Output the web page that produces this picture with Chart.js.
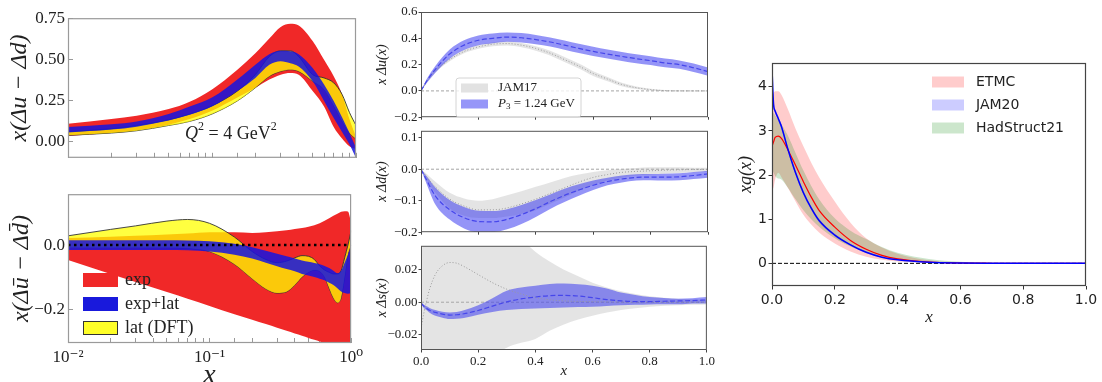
<!DOCTYPE html>
<html>
<head>
<meta charset="utf-8">
<script src="https://cdn.jsdelivr.net/npm/chart.js@4.4.1/dist/chart.umd.min.js"></script>
<style>
  html, body { margin: 0; padding: 0; background: #fff; }
  body { position: relative; width: 1102px; height: 382px; overflow: hidden; }
  canvas { position: absolute; }
</style>
</head>
<body>
<canvas id="pA"></canvas>
<canvas id="pB"></canvas>
<canvas id="pU"></canvas>
<canvas id="pD"></canvas>
<canvas id="pS"></canvas>
<canvas id="pG"></canvas>
<script>
// ---------- left column: x(Δu-Δd) and x(Δū-Δd̄), log x ----------
const xA = [0.01, 0.02, 0.03, 0.05, 0.07, 0.1, 0.15, 0.2, 0.25, 0.3, 0.35, 0.4, 0.5, 0.6, 0.7, 0.8, 0.9, 1.0];
const expHiA = [0.111, 0.14, 0.16, 0.20, 0.245, 0.32, 0.44, 0.54, 0.63, 0.70, 0.72, 0.71, 0.615, 0.50, 0.40, 0.29, 0.14, 0.03];
const expLoA = [0.036, 0.054, 0.07, 0.105, 0.14, 0.19, 0.27, 0.33, 0.38, 0.41, 0.42, 0.41, 0.31, 0.215, 0.09, 0.02, -0.027, -0.045];
const latHiA = [0.063, 0.08, 0.10, 0.135, 0.17, 0.22, 0.31, 0.41, 0.52, 0.555, 0.555, 0.52, 0.41, 0.39, 0.36, 0.29, 0.18, 0.10];
const latLoA = [0.04, 0.054, 0.068, 0.10, 0.125, 0.17, 0.25, 0.33, 0.40, 0.43, 0.44, 0.43, 0.37, 0.32, 0.22, 0.126, 0.054, 0.018];
const bothHiA = [0.09, 0.108, 0.125, 0.17, 0.215, 0.27, 0.38, 0.47, 0.535, 0.555, 0.552, 0.535, 0.45, 0.35, 0.25, 0.15, 0.055, -0.036];
const bothLoA = [0.057, 0.075, 0.093, 0.13, 0.165, 0.215, 0.31, 0.39, 0.47, 0.492, 0.48, 0.46, 0.37, 0.25, 0.145, 0.06, -0.015, -0.098];

const xB = [0.01, 0.02, 0.03, 0.05, 0.07, 0.1, 0.15, 0.2, 0.25, 0.3, 0.35, 0.4, 0.45, 0.5, 0.55, 0.6, 0.65, 0.7, 0.75, 0.8, 0.85, 0.9, 0.95, 1.0];
const expHiB = [0.022, 0.026, 0.029, 0.033, 0.036, 0.04, 0.04, 0.038, 0.04, 0.043, 0.046, 0.05, 0.053, 0.057, 0.062, 0.068, 0.076, 0.084, 0.092, 0.098, 0.104, 0.106, 0.105, 0.07];
const expLoB = [-0.047, -0.09, -0.115, -0.147, -0.168, -0.19, -0.216, -0.233, -0.247, -0.258, -0.268, -0.276, -0.283, -0.29, -0.296, -0.301, -0.306, -0.31, -0.32, -0.32, -0.32, -0.32, -0.32, -0.32];
const latHiB = [0.029, 0.049, 0.06, 0.075, 0.08, 0.068, 0.025, -0.02, -0.045, -0.055, -0.05, -0.04, -0.033, -0.035, -0.045, -0.065, -0.078, -0.085, -0.09, -0.09, -0.08, -0.04, 0.0, 0.045];
const latLoB = [-0.008, -0.008, -0.008, -0.008, -0.01, -0.02, -0.06, -0.105, -0.137, -0.15, -0.146, -0.125, -0.1, -0.085, -0.078, -0.082, -0.1, -0.135, -0.165, -0.18, -0.165, -0.1, -0.03, 0.0];
const bothHiB = [0.015, 0.015, 0.015, 0.015, 0.014, 0.012, 0.004, -0.007, -0.018, -0.027, -0.035, -0.042, -0.048, -0.052, -0.056, -0.06, -0.065, -0.072, -0.08, -0.088, -0.08, -0.055, -0.03, -0.005];
const bothLoB = [-0.015, -0.015, -0.015, -0.015, -0.016, -0.02, -0.03, -0.042, -0.055, -0.066, -0.075, -0.082, -0.09, -0.095, -0.1, -0.105, -0.11, -0.118, -0.125, -0.135, -0.145, -0.15, -0.152, -0.15];
const leftNames = ['exp', 'exp+lat', 'lat (DFT)'];

// ---------- middle column: JAM17 vs P3 = 1.24 GeV ----------
const xM = [0, 0.02, 0.05, 0.1, 0.15, 0.2, 0.25, 0.3, 0.35, 0.4, 0.45, 0.5, 0.55, 0.6, 0.65, 0.7, 0.75, 0.8, 0.85, 0.9, 0.95, 1.0];
const jamU = [0, 0.07, 0.152, 0.238, 0.30, 0.335, 0.355, 0.36, 0.348, 0.323, 0.287, 0.238, 0.189, 0.132, 0.09, 0.049, 0.024, 0.01, 0.002, 0, 0, 0];
const jamUHi = [0, 0.075, 0.162, 0.25, 0.313, 0.349, 0.37, 0.375, 0.364, 0.34, 0.305, 0.257, 0.208, 0.15, 0.106, 0.062, 0.034, 0.017, 0.007, 0.003, 0.002, 0.002];
const jamULo = [0, 0.065, 0.142, 0.226, 0.287, 0.321, 0.34, 0.345, 0.332, 0.306, 0.269, 0.219, 0.17, 0.114, 0.074, 0.036, 0.014, 0.003, -0.003, -0.003, -0.002, -0.002];
const latU = [0, 0.075, 0.164, 0.28, 0.348, 0.385, 0.40, 0.409, 0.404, 0.39, 0.372, 0.348, 0.323, 0.30, 0.28, 0.262, 0.245, 0.23, 0.213, 0.20, 0.176, 0.147];
const latUHi = [0, 0.09, 0.19, 0.315, 0.385, 0.422, 0.437, 0.445, 0.44, 0.426, 0.407, 0.383, 0.358, 0.335, 0.314, 0.296, 0.279, 0.263, 0.246, 0.232, 0.208, 0.178];
const latULo = [0, 0.06, 0.138, 0.245, 0.311, 0.348, 0.363, 0.373, 0.368, 0.354, 0.337, 0.313, 0.288, 0.265, 0.246, 0.228, 0.211, 0.197, 0.18, 0.168, 0.144, 0.116];

const jamD = [0, -0.025, -0.056, -0.095, -0.117, -0.129, -0.129, -0.123, -0.11, -0.095, -0.077, -0.059, -0.041, -0.026, -0.017, -0.01, -0.007, -0.005, -0.003, -0.002, -0.001, -0.001];
const jamDHi = [0, -0.015, -0.04, -0.075, -0.093, -0.1, -0.095, -0.083, -0.07, -0.056, -0.042, -0.028, -0.017, -0.009, -0.003, 0.001, 0.004, 0.006, 0.006, 0.006, 0.005, 0.005];
const jamDLo = [0, -0.035, -0.075, -0.125, -0.148, -0.155, -0.155, -0.15, -0.142, -0.13, -0.11, -0.09, -0.068, -0.05, -0.036, -0.027, -0.02, -0.017, -0.014, -0.012, -0.01, -0.008];
const latD = [0, -0.035, -0.085, -0.129, -0.154, -0.166, -0.167, -0.159, -0.144, -0.125, -0.103, -0.083, -0.066, -0.051, -0.039, -0.031, -0.026, -0.025, -0.025, -0.024, -0.02, -0.015];
const latDHi = [0, -0.022, -0.058, -0.098, -0.12, -0.132, -0.133, -0.127, -0.114, -0.098, -0.08, -0.062, -0.048, -0.036, -0.027, -0.02, -0.016, -0.015, -0.014, -0.013, -0.009, -0.005];
const latDLo = [0, -0.048, -0.112, -0.16, -0.188, -0.2, -0.2, -0.191, -0.174, -0.152, -0.126, -0.104, -0.084, -0.066, -0.051, -0.042, -0.036, -0.035, -0.036, -0.035, -0.031, -0.027];

const xS = [0, 0.01, 0.02, 0.03, 0.05, 0.075, 0.1, 0.125, 0.15, 0.2, 0.25, 0.3, 0.35, 0.4, 0.45, 0.5, 0.55, 0.6, 0.65, 0.7, 0.75, 0.8, 0.85, 0.9, 0.95, 1.0];
const jamS = [-0.016, -0.0067, 0.0012, 0.008, 0.017, 0.0224, 0.0244, 0.024, 0.022, 0.017, 0.012, 0.008, 0.0051, 0.0028, 0.0015, 0.0008, 0.0005, 0.0003, 0.0002, 0.0001, 0, 0, 0, 0, 0, 0];
const jamSHi = [0.024, 0.045, 0.06, 0.065, 0.07, 0.07, 0.07, 0.07, 0.068, 0.062, 0.054, 0.046, 0.039, 0.031, 0.025, 0.02, 0.016, 0.012, 0.009, 0.0067, 0.005, 0.0036, 0.0028, 0.0022, 0.0018, 0.0016];
const jamSLo = [-0.016, -0.05, -0.065, -0.07, -0.07, -0.07, -0.07, -0.068, -0.062, -0.045, -0.034, -0.028, -0.025, -0.0226, -0.0176, -0.0137, -0.0107, -0.0083, -0.0063, -0.0048, -0.0037, -0.0028, -0.0022, -0.0018, -0.0016, -0.0014];
const latS = [-0.0005, -0.0025, -0.0038, -0.005, -0.0063, -0.0073, -0.0079, -0.0077, -0.0071, -0.0051, -0.0024, 0.0002, 0.002, 0.0032, 0.004, 0.0042, 0.0038, 0.0028, 0.0016, 0.0008, 0.0004, 0.0004, 0.0006, 0.0008, 0.001, 0.0014];
const latSHi = [-0.0002, -0.0015, -0.0025, -0.0035, -0.0048, -0.0058, -0.0063, -0.006, -0.005, -0.0018, 0.0025, 0.0071, 0.009, 0.0101, 0.0112, 0.0115, 0.011, 0.0101, 0.0085, 0.006, 0.0045, 0.0032, 0.0026, 0.0022, 0.0025, 0.0032];
const latSLo = [-0.001, -0.0035, -0.005, -0.0065, -0.0083, -0.0095, -0.0103, -0.0102, -0.0097, -0.0077, -0.006, -0.0048, -0.0042, -0.0038, -0.0035, -0.0032, -0.003, -0.0028, -0.0023, -0.0018, -0.0016, -0.0014, -0.0013, -0.0013, -0.0008, -0.0008];
const midNames = ['JAM17', 'P3 = 1.24 GeV'];

// ---------- right: gluon xg(x) ----------
const xG = [0, 0.005, 0.01, 0.02, 0.03, 0.05, 0.075, 0.1, 0.125, 0.15, 0.2, 0.25, 0.3, 0.35, 0.4, 0.5, 0.6, 0.7, 0.8, 0.9, 1.0];
const etmc = [2.65, 2.75, 2.85, 2.88, 2.83, 2.58, 2.22, 1.85, 1.5, 1.2, 0.82, 0.52, 0.32, 0.18, 0.1, 0.03, 0.008, 0.002, 0, 0, 0];
const etmcHi = [3.7, 3.85, 3.9, 3.9, 3.82, 3.5, 3.05, 2.65, 2.28, 1.95, 1.4, 0.92, 0.57, 0.36, 0.22, 0.07, 0.02, 0.005, 0.001, 0, 0];
const etmcLo = [1.65, 1.72, 1.9, 2.05, 1.95, 1.72, 1.4, 1.1, 0.88, 0.7, 0.45, 0.27, 0.15, 0.08, 0.04, 0.01, 0, 0, 0, 0, 0];
const jam20 = [4.4, 3.6, 3.45, 3.28, 3.1, 2.6, 2.05, 1.6, 1.25, 0.97, 0.64, 0.42, 0.25, 0.14, 0.08, 0.025, 0.007, 0.002, 0, 0, 0];
const jam20Hi = [4.45, 3.65, 3.5, 3.33, 3.15, 2.65, 2.1, 1.65, 1.29, 1.01, 0.67, 0.44, 0.27, 0.15, 0.09, 0.03, 0.009, 0.003, 0.001, 0, 0];
const jam20Lo = [4.35, 3.55, 3.4, 3.23, 3.05, 2.55, 2.0, 1.55, 1.21, 0.93, 0.61, 0.4, 0.23, 0.13, 0.07, 0.02, 0.005, 0.001, 0, 0, 0];
const hadHi = [3.45, 3.4, 3.35, 3.25, 3.15, 2.9, 2.5, 2.1, 1.75, 1.45, 1.02, 0.74, 0.55, 0.37, 0.24, 0.1, 0.035, 0.01, 0.003, 0.001, 0];
const hadLo = [2.15, 2.05, 1.98, 1.92, 1.9, 1.72, 1.45, 1.2, 1.0, 0.83, 0.57, 0.38, 0.25, 0.15, 0.09, 0.03, 0.01, 0.002, 0, 0, 0];
const gluonNames = ['ETMC', 'JAM20', 'HadStruct21'];

// tick values
const ticksA = [0, 0.25, 0.5, 0.75];
const ticksB = [-0.2, 0];
const ticksU = [-0.2, 0, 0.2, 0.4, 0.6];
const ticksD = [-0.2, -0.1, 0, 0.1];
const ticksS = [-0.02, 0, 0.02];
const ticksG = [0, 1, 2, 3, 4];
const ticksUnit = [0, 0.2, 0.4, 0.6, 0.8, 1.0];

// ---------- helpers ----------
const SERIF = '"Liberation Serif", "DejaVu Serif", serif';
const SANS = '"DejaVu Sans", sans-serif';
Chart.defaults.font.family = SERIF;
Chart.defaults.color = '#222';

const pts = (xs, ys) => xs.map((x, i) => ({ x: x, y: ys[i] }));
const fmt = d => v => (v < -1e-12 ? '\u2212' : '') + Math.abs(v).toFixed(d);
const SUP = { '-': '\u207B', '0': '\u2070', '1': '\u00B9', '2': '\u00B2' };
const pow10 = v => {
  const l = Math.log10(v);
  if (Math.abs(l - Math.round(l)) > 1e-6) return '';
  return '10' + String(Math.round(l)).split('').map(c => SUP[c]).join('');
};

function band(xs, hi, lo, color, order, edge) {
  const e = edge || 'rgba(0,0,0,0)', w = edge ? 0.9 : 0;
  return [
    { data: pts(xs, hi), fill: '+1', backgroundColor: color, borderColor: e, borderWidth: w, order: order },
    { data: pts(xs, lo), fill: false, borderColor: e, borderWidth: w, order: order }
  ];
}
function curve(xs, ys, color, width, dash, order) {
  return { data: pts(xs, ys), fill: false, borderColor: color, borderWidth: width, borderDash: dash || [], order: order || 0 };
}

function drawParts(ctx, parts, x, y, color) {
  ctx.fillStyle = color; ctx.textBaseline = 'middle'; ctx.textAlign = 'left';
  parts.forEach(p => {
    ctx.font = p[1];
    ctx.fillText(p[0], x, y + (p[2] || 0));
    x += ctx.measureText(p[0]).width;
  });
}

// frame, legend patches and free text, one plugin per chart
function deco(cfg) {
  return {
    id: 'deco',
    afterDraw(chart) {
      const ctx = chart.ctx, a = chart.chartArea;
      ctx.save();
      ctx.strokeStyle = cfg.frame; ctx.lineWidth = cfg.frameWidth || 1;
      ctx.strokeRect(a.left + 0.5, a.top + 0.5, a.right - a.left - 1, a.bottom - a.top - 1);
      const L = cfg.legend;
      if (L) {
        if (L.box) {
          ctx.beginPath(); ctx.roundRect(L.box[0], L.box[1], L.box[2], L.box[3], 3);
          ctx.fillStyle = 'rgba(255,255,255,0.8)'; ctx.fill();
          ctx.strokeStyle = '#d4d4d4'; ctx.lineWidth = 1; ctx.stroke();
        }
        L.items.forEach((it, i) => {
          const y = L.y + i * L.gap;
          ctx.fillStyle = it.fill;
          ctx.fillRect(L.x, y - L.h / 2, L.w, L.h);
          if (it.edge) {
            ctx.strokeStyle = it.edge; ctx.lineWidth = 1;
            ctx.strokeRect(L.x + 0.5, y - L.h / 2 + 0.5, L.w - 1, L.h - 1);
          }
          drawParts(ctx, it.parts, L.x + L.w + L.sep, y, '#222');
        });
      }
      (cfg.notes || []).forEach(n => drawParts(ctx, n.parts, n.x, n.y, '#222'));
      ctx.restore();
    }
  };
}

function scale(o) {
  const s = {
    type: o.type || 'linear', min: o.min, max: o.max,
    border: { display: false },
    grid: { drawOnChartArea: false, drawTicks: true, tickLength: o.tl, color: o.tc, lineWidth: 1 },
    ticks: { font: o.font, color: '#222', padding: o.pad, autoSkip: false, maxRotation: 0, minRotation: 0, callback: o.label },
    title: o.title ? { display: true, text: o.title, font: o.tfont, padding: o.tpad, color: '#222' } : { display: false }
  };
  if (o.values) s.afterBuildTicks = sc => { sc.ticks = o.values.map(v => ({ value: v })); };
  return s;
}

function panel(id, box, pad, datasets, x, y, plug) {
  const c = document.getElementById(id);
  c.width = box[2]; c.height = box[3];
  c.style.left = box[0] + 'px'; c.style.top = box[1] + 'px';
  x.afterFit = s => { s.height = pad.b; };
  y.afterFit = s => { s.width = pad.l; };
  return new Chart(c, {
    type: 'line',
    data: { datasets: datasets },
    options: {
      responsive: false, animation: false, devicePixelRatio: 1,
      layout: { padding: { left: 0, top: pad.t, right: pad.r, bottom: 0 } },
      elements: { point: { radius: 0 }, line: { tension: 0.4, cubicInterpolationMode: 'monotone' } },
      plugins: { legend: { display: false }, tooltip: { enabled: false } },
      scales: { x: x, y: y }
    },
    plugins: [plug]
  });
}

const f = (size, italic, fam) => ({ family: fam || SERIF, size: size, style: italic ? 'italic' : 'normal' });
const cf = (size, italic, fam) => (italic ? 'italic ' : '') + size + 'px ' + (fam || SERIF);

const RED = 'rgb(240,40,40)';
const YEL = 'rgba(255,255,0,0.75)';
const BLU = 'rgba(20,20,225,0.85)';
const LILAC = 'rgba(60,60,240,0.55)';
const GREY = 'rgba(170,170,170,0.32)';
const DASHBLUE = 'rgb(70,70,235)';

// ---------- top left ----------
panel('pA', [0, 0, 362, 176], { l: 68, t: 10, r: 6, b: 8 },
  [].concat(
    band(xA, bothHiA, bothLoA, BLU, 1),
    band(xA, latHiA, latLoA, YEL, 2, '#333'),
    band(xA, expHiA, expLoA, RED, 3)
  ),
  scale({ type: 'logarithmic', min: 0.01, max: 1, tl: -5, tc: '#999', pad: 0, font: f(17), label: () => '' }),
  scale({ min: -0.097, max: 0.754, values: ticksA, tl: -5, tc: '#999', pad: 8, font: f(17), label: fmt(2),
          title: 'x(\u0394u \u2212 \u0394d)', tfont: f(24, true), tpad: { top: 5 } }),
  deco({ frame: '#9a9a9a', frameWidth: 1.2,
         notes: [{ x: 185, y: 134, parts: [['Q', cf(18, true)], ['2', cf(12), -7], [' = 4 GeV', cf(18)], ['2', cf(12), -7]] }] })
);

// ---------- bottom left ----------
panel('pB', [0, 176, 372, 216], { l: 68, t: 8, r: 16, b: 49 },
  [].concat(
    [curve(xB, xB.map(() => 0), '#000', 2.5, [2.5, 3.5], -1)],
    band(xB, bothHiB, bothLoB, BLU, 1),
    band(xB, latHiB, latLoB, YEL, 2, '#333'),
    band(xB, expHiB, expLoB, RED, 3)
  ),
  scale({ type: 'logarithmic', min: 0.01, max: 1, tl: -5, tc: '#999', pad: 9, font: f(17), label: pow10,
          title: 'x', tfont: f(28, true), tpad: { bottom: 0 } }),
  scale({ min: -0.306, max: 0.159, values: ticksB, tl: -5, tc: '#999', pad: 8, font: f(17), label: fmt(1),
          title: 'x(\u0394\u016B \u2212 \u0394d\u0304)', tfont: f(24, true), tpad: { top: 7 } }),
  deco({ frame: '#9a9a9a', frameWidth: 1.2,
         legend: { x: 83, y: 104, gap: 24, w: 35, h: 14, sep: 7, items: [
           { fill: RED, parts: [[leftNames[0], cf(18)]] },
           { fill: 'rgb(25,25,220)', parts: [[leftNames[1], cf(18)]] },
           { fill: 'rgb(255,255,40)', edge: '#333', parts: [[leftNames[2], cf(18)]] } ] } })
);

// ---------- middle column ----------
function midPanel(id, box, pad, jamC, jamH, jamL, latC, latH, latL, yr, yt, yfmt, title, bottom, legend) {
  const xs = id === 'pS' ? xS : xM;
  return panel(id, box, pad,
    [].concat(
      [curve(xs, latC, DASHBLUE, 1.2, [5, 2.5], 0)],
      [curve(xs, jamC, '#9a9a9a', 1, [1, 2], 0)],
      band(xs, latH, latL, LILAC, 1),
      band(xs, jamH, jamL, GREY, 2),
      [curve([0, 1], [0, 0], '#9a9a9a', 0.9, [3, 2], 3)]
    ),
    scale(Object.assign({ min: 0, max: 1, values: ticksUnit, tl: 2.5, tc: '#444', font: f(13) },
      bottom ? { pad: 1, label: fmt(1), title: 'x', tfont: f(15, true), tpad: { bottom: 2 } } : { pad: 0, label: () => '' })),
    scale({ min: yr[0], max: yr[1], values: yt, tl: 2.5, tc: '#444', pad: 1, font: f(13), label: fmt(yfmt),
            title: title, tfont: f(14, true), tpad: { top: 2 } }),
    deco({ frame: '#555', legend: legend })
  );
}

midPanel('pU', [372, 0, 344, 126], { l: 49, t: 12, r: 8, b: 5 },
  jamU, jamUHi, jamULo, latU, latUHi, latULo, [-0.2, 0.6], ticksU, 1, 'x \u0394u(x)', false,
  { box: [84, 78, 125, 39], x: 89, y: 88, gap: 16, w: 27, h: 9, sep: 10, items: [
    { fill: 'rgb(226,226,226)', parts: [[midNames[0], cf(13)]] },
    { fill: 'rgb(150,150,248)', parts: [['P', cf(13, true)], ['3', cf(9), 3], [' = 1.24 GeV', cf(13)]] } ] });

midPanel('pD', [372, 122, 344, 119], { l: 49, t: 4, r: 8, b: 5 },
  jamD, jamDHi, jamDLo, latD, latDHi, latDLo, [-0.2, 0.122], ticksD, 1, 'x \u0394d(x)', false, null);

midPanel('pS', [372, 237, 344, 145], { l: 49, t: 5, r: 8, b: 32 },
  jamS, jamSHi, jamSLo, latS, latSHi, latSLo, [-0.0294, 0.0347], ticksS, 2, 'x \u0394s(x)', true, null);

// ---------- right: gluon ----------
panel('pG', [725, 50, 375, 280], { l: 47, t: 13, r: 14, b: 44 },
  [].concat(
    [curve(xG, jam20, 'rgb(0,0,255)', 1.5, [], 0)],
    [curve(xG, etmc, 'rgb(255,0,0)', 1.2, [], 0)],
    band(xG, jam20Hi, jam20Lo, 'rgba(0,0,255,0.2)', 1),
    band(xG, hadHi, hadLo, 'rgba(0,128,0,0.2)', 2),
    band(xG, etmcHi, etmcLo, 'rgba(255,0,0,0.2)', 3),
    [curve([0, 1], [0, 0], '#000', 1, [4, 2], 4)]
  ),
  scale({ min: 0, max: 1, values: ticksUnit, tl: 3.5, tc: '#333', pad: 2.5, font: f(14, false, SANS), label: fmt(1),
          title: 'x', tfont: f(17, true), tpad: { bottom: 2 } }),
  scale({ min: -0.513, max: 4.537, values: ticksG, tl: 3.5, tc: '#333', pad: 1.5, font: f(14, false, SANS), label: fmt(0),
          title: 'xg(x)', tfont: f(18, true), tpad: { top: 10 } }),
  deco({ frame: '#444', frameWidth: 1.2,
         legend: { x: 207, y: 32, gap: 23, w: 32, h: 11, sep: 12, items: [
           { fill: 'rgba(255,0,0,0.2)', parts: [[gluonNames[0], cf(14, false, SANS)]] },
           { fill: 'rgba(0,0,255,0.2)', parts: [[gluonNames[1], cf(14, false, SANS)]] },
           { fill: 'rgba(0,128,0,0.2)', parts: [[gluonNames[2], cf(14, false, SANS)]] } ] } })
);
</script>
</body>
</html>
